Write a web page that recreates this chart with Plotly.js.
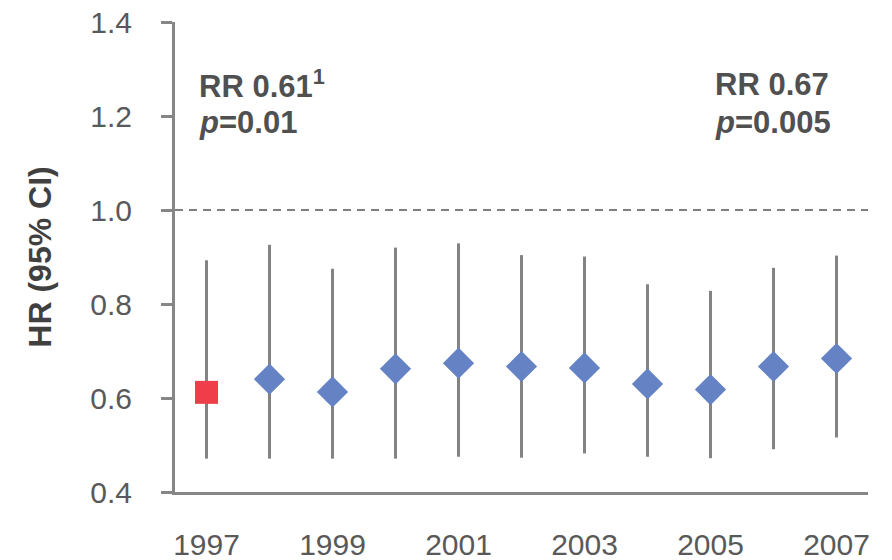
<!DOCTYPE html>
<html>
<head>
<meta charset="utf-8">
<script src="https://cdn.plot.ly/plotly-3.0.1.min.js"></script>
<style>html,body{margin:0;padding:0;background:#fff;}#chart{width:892px;height:560px;}</style>
</head>
<body>
<div id="chart"></div>
<script>
// Data
const years = [1997, 1998, 1999, 2000, 2001, 2002, 2003, 2004, 2005, 2006, 2007];
const hr    = [0.612, 0.640, 0.613, 0.662, 0.674, 0.667, 0.664, 0.630, 0.618, 0.667, 0.684];
const ciLow = [0.471, 0.471, 0.471, 0.471, 0.475, 0.473, 0.482, 0.475, 0.472, 0.491, 0.516];
const ciHigh= [0.893, 0.926, 0.875, 0.920, 0.929, 0.904, 0.901, 0.842, 0.828, 0.877, 0.903];
const tickYears = [1997, 1999, 2001, 2003, 2005, 2007];
const yTicks = [0.4, 0.6, 0.8, 1.0, 1.2, 1.4];
const refLine = 1.0;
const noteLeft  = ["RR 0.61<sup>1</sup>", "<i>p</i>=0.01"];
const noteRight = ["RR 0.67", "<i>p</i>=0.005"];

const errPlus  = hr.map((v, i) => ciHigh[i] - v);
const errMinus = hr.map((v, i) => v - ciLow[i]);

// first year highlighted as a red square, remaining as blue diamonds
const baseX = years.slice(0, 1), baseY = hr.slice(0, 1);
const restX = years.slice(1), restY = hr.slice(1);

const traces = [
  {
    x: years, y: hr, type: 'scatter', mode: 'markers',
    marker: {size: 1, color: 'rgba(0,0,0,0)'},
    error_y: {type: 'data', symmetric: false, array: errPlus, arrayminus: errMinus,
              color: '#838383', thickness: 3, width: 0},
    hoverinfo: 'skip', showlegend: false
  },
  {
    x: restX, y: restY, type: 'scatter', mode: 'markers',
    marker: {symbol: 'diamond', size: 24, color: '#6482C4', line: {width: 0}},
    showlegend: false
  },
  {
    x: baseX, y: baseY, type: 'scatter', mode: 'markers',
    marker: {symbol: 'square', size: 23, color: '#EF3E4A', line: {width: 0}},
    showlegend: false
  }
];

const noteFont = {size: 31, color: '#505050'};
const line1Y = 1.268, line2Y = 1.187;

const layout = {
  width: 892, height: 560,
  margin: {l: 175, r: 24, t: 22, b: 68, pad: 0},
  paper_bgcolor: '#ffffff', plot_bgcolor: '#ffffff',
  font: {family: 'Liberation Sans, Arial, sans-serif', color: '#595959'},
  showlegend: false,
  xaxis: {
    range: [1996.5, 2007.5], tickmode: 'array', tickvals: tickYears,
    ticktext: tickYears.map(String),
    showgrid: false, zeroline: false,
    showline: true, linecolor: '#868686', linewidth: 3,
    ticks: '', ticklabelstandoff: 24,
    tickfont: {size: 30, color: '#595959'}
  },
  yaxis: {
    range: [0.4, 1.4], tickmode: 'array', tickvals: yTicks,
    ticktext: yTicks.map(v => v.toFixed(1)),
    showgrid: false, zeroline: false,
    showline: true, linecolor: '#868686', linewidth: 3,
    ticks: 'outside', ticklen: 11, tickwidth: 3, tickcolor: '#868686',
    ticklabelstandoff: 23,
    tickfont: {size: 30, color: '#595959'},
    title: {text: '<b>HR (95% CI)</b>', font: {size: 32, color: '#404040'}, standoff: 30}
  },
  shapes: [{
    type: 'line', xref: 'paper', x0: 0, x1: 1, yref: 'y', y0: refLine, y1: refLine,
    line: {color: '#7f7f7f', width: 2, dash: '8px,6px'}
  }],
  annotations: [
    {xref: 'paper', x: 0.0317, yref: 'y', y: line1Y, xanchor: 'left', yanchor: 'middle', align: 'left',
     showarrow: false, text: '<b>' + noteLeft[0] + '</b>', font: noteFont},
    {xref: 'paper', x: 0.0317, yref: 'y', y: line2Y, xanchor: 'left', yanchor: 'middle', align: 'left',
     showarrow: false, text: '<b>' + noteLeft[1] + '</b>', font: noteFont},
    {xref: 'paper', x: 0.776, yref: 'y', y: line1Y, xanchor: 'left', yanchor: 'middle', align: 'left',
     showarrow: false, text: '<b>' + noteRight[0] + '</b>', font: noteFont},
    {xref: 'paper', x: 0.776, yref: 'y', y: line2Y, xanchor: 'left', yanchor: 'middle', align: 'left',
     showarrow: false, text: '<b>' + noteRight[1] + '</b>', font: noteFont}
  ]
};

Plotly.newPlot('chart', traces, layout, {displayModeBar: false, staticPlot: true});
</script>
</body>
</html>
